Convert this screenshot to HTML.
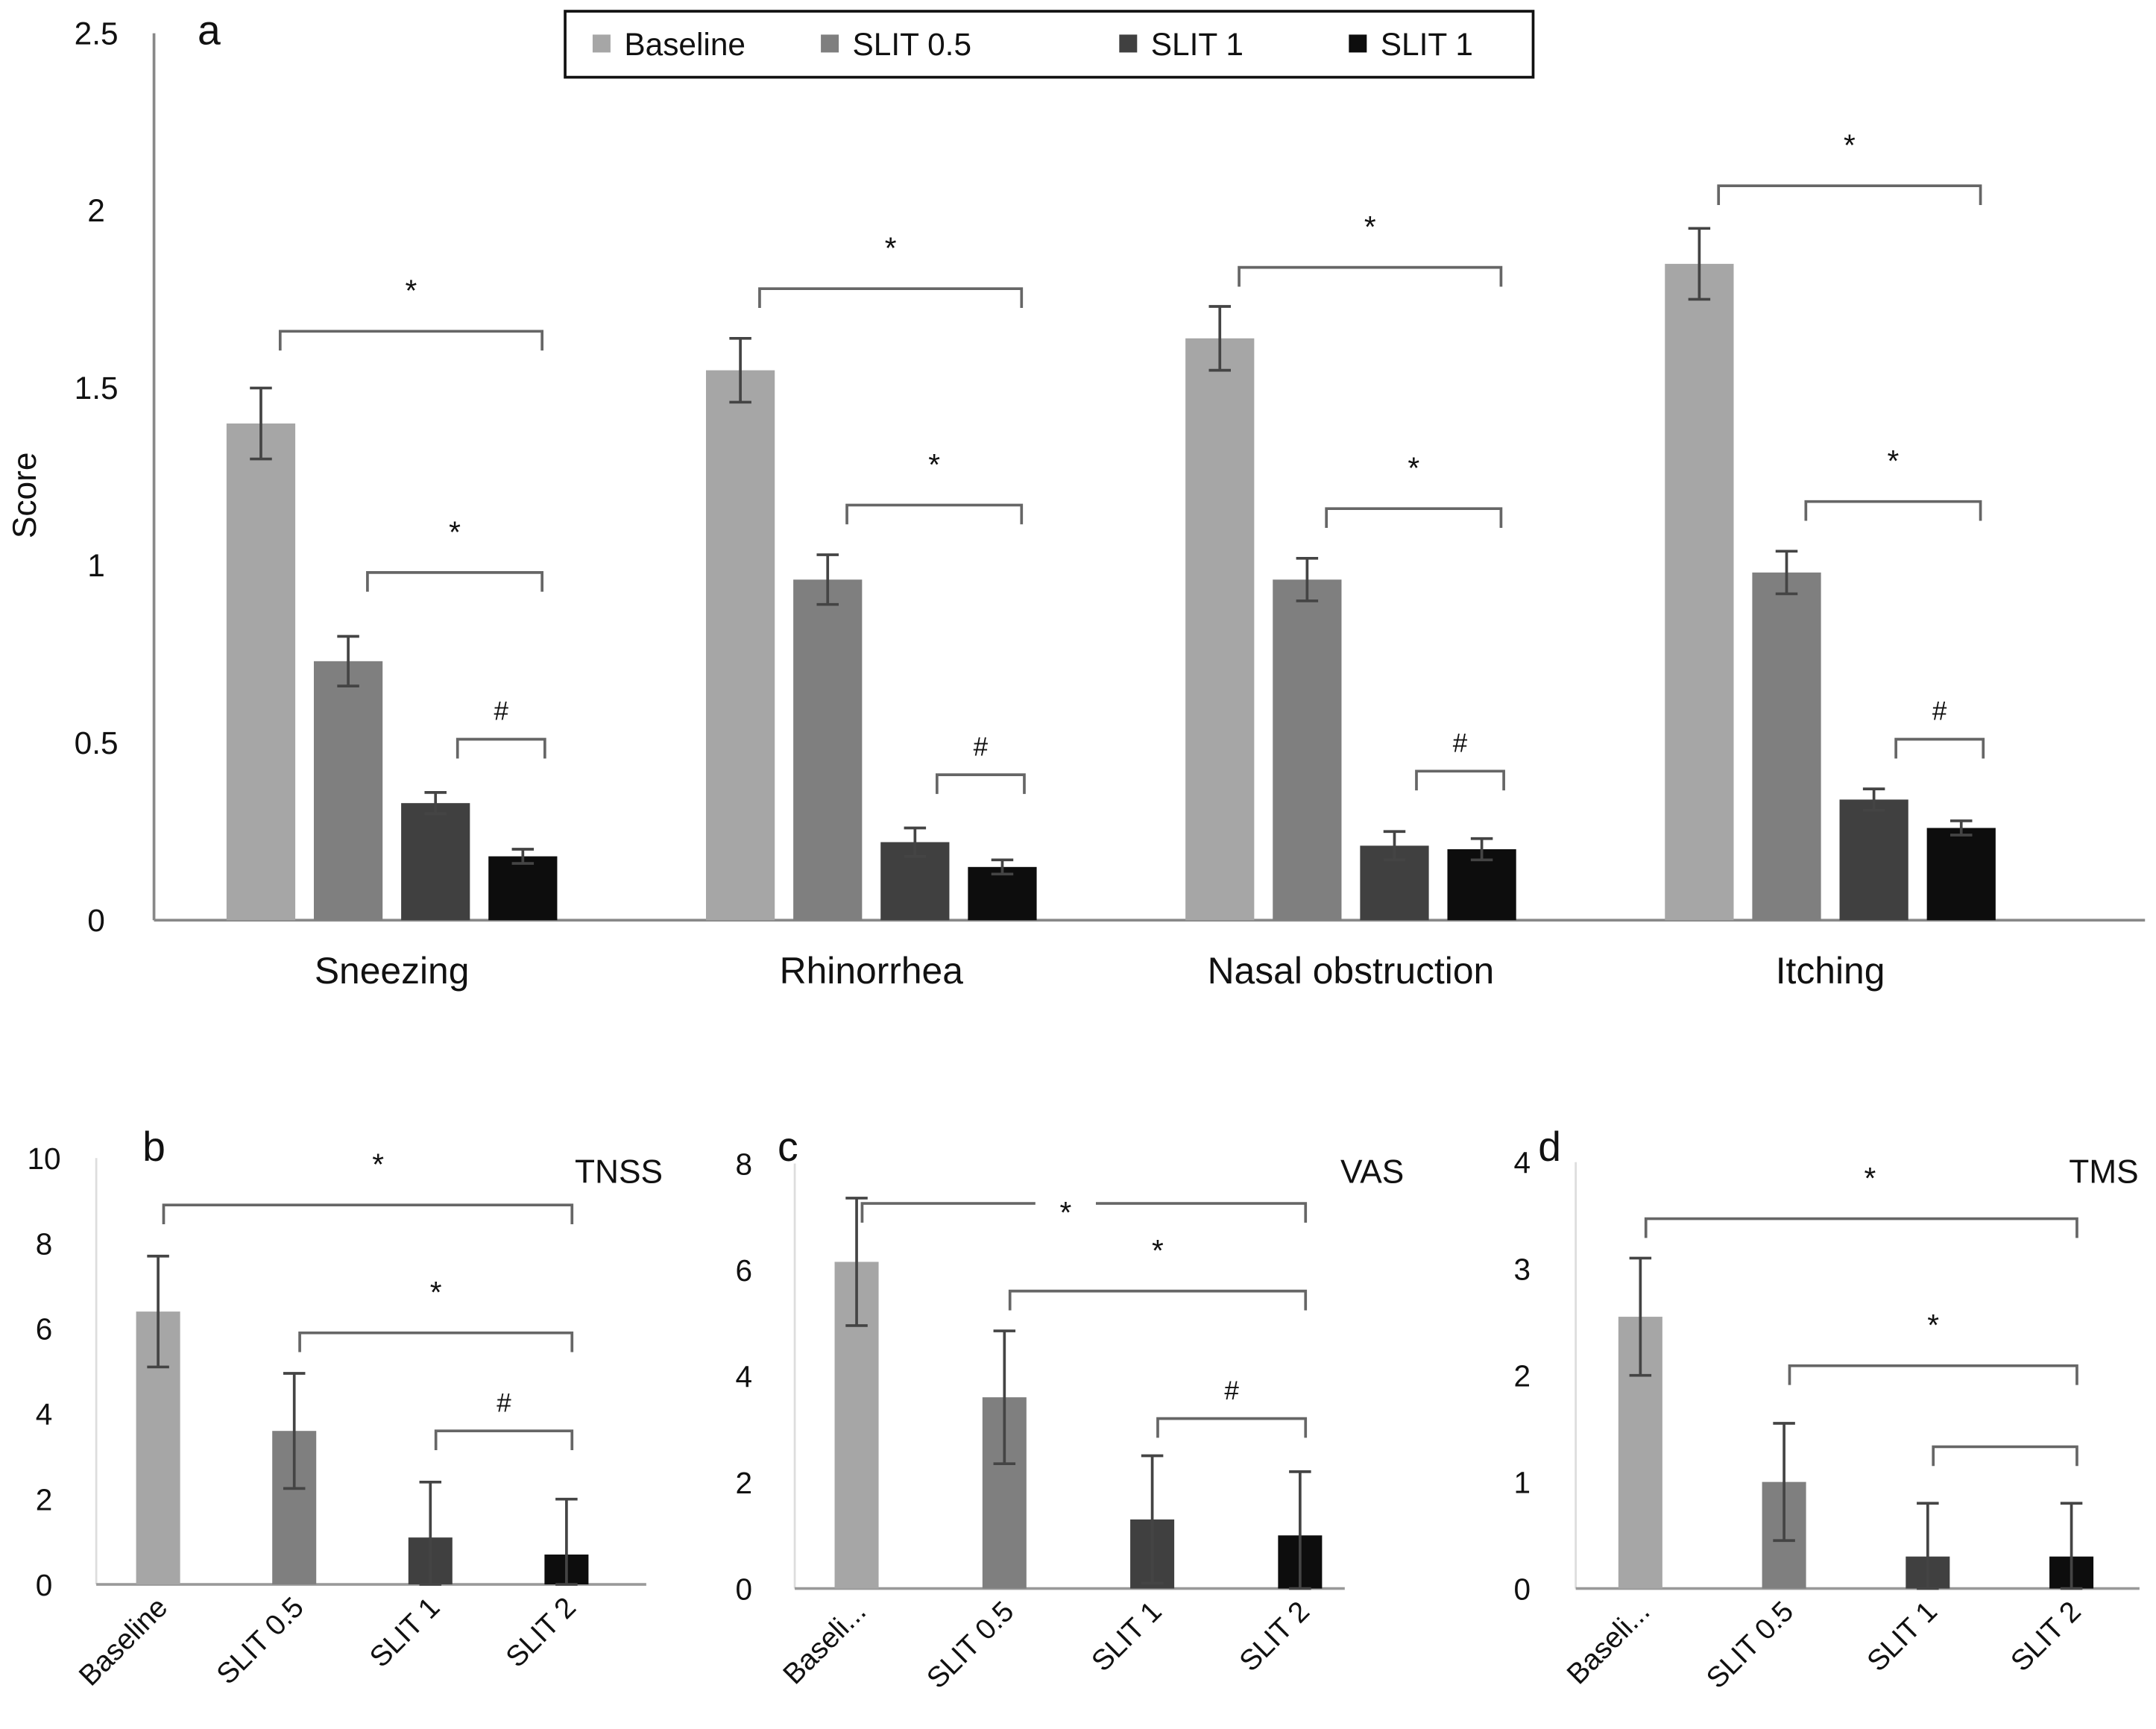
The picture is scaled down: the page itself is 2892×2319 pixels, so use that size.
<!DOCTYPE html>
<html><head><meta charset="utf-8"><style>
html,body{margin:0;padding:0;background:#fff;}
svg{display:block;font-family:"Liberation Sans",Arial,sans-serif;}
</style></head><body>
<svg id="chart" width="2892" height="2319" viewBox="0 0 1568 1257" xmlns="http://www.w3.org/2000/svg"></svg>
<script>
// ---- Panel a data ----
const aCategories = ["Sneezing","Rhinorrhea","Nasal obstruction","Itching"];
const aSeriesNames = ["Baseline","SLIT 0.5","SLIT 1","SLIT 1"];
const aBaseline = [1.40,1.55,1.64,1.85];
const aSlit05 = [0.73,0.96,0.96,0.98];
const aSlit1 = [0.33,0.22,0.21,0.34];
const aSlit2 = [0.18,0.15,0.20,0.26];
const aErrBaseline = [0.10,0.09,0.09,0.10];
const aErrSlit05 = [0.07,0.07,0.06,0.06];
const aErrSlit1 = [0.03,0.04,0.04,0.03];
const aErrSlit2 = [0.02,0.02,0.03,0.02];
const aTicks = ["0","0.5","1","1.5","2","2.5"];
const aBracketTop = [1.66,1.78,1.84,2.07];
const aBracketMid = [0.98,1.17,1.16,1.18];
const aBracketLow = [0.51,0.41,0.42,0.51];
// ---- Small panels data ----
const smallLabels = ["Baseline","SLIT 0.5","SLIT 1","SLIT 2"];
const bValues = [6.4,3.6,1.1,0.7];
const bErrors = [1.3,1.35,1.3,1.3];
const bTicks = ["0","2","4","6","8","10"];
const bBrackets = [8.9,5.9,3.6];
const cValues = [6.15,3.6,1.3,1.0];
const cErrors = [1.2,1.25,1.2,1.2];
const cTicks = ["0","2","4","6","8"];
const cBrackets = [7.25,5.6,3.2];
const dValues = [2.55,1.0,0.3,0.3];
const dErrors = [0.55,0.55,0.5,0.5];
const dTicks = ["0","1","2","3","4"];
const dBrackets = [3.47,2.09,1.33];

const colors = ["#a6a6a6","#7f7f7f","#404040","#0d0d0d"];
const svg = document.getElementById('chart');
const NS = "http://www.w3.org/2000/svg";
function el(tag, attrs, parent, text){
  const e = document.createElementNS(NS, tag);
  for (const k in attrs) e.setAttribute(k, attrs[k]);
  if (text !== undefined) e.textContent = text;
  (parent||svg).appendChild(e);
  return e;
}
function bracket(g, x1, x2, y, sym, sx, name, gap){
  let d;
  if (gap) d = `M${x1} ${y+14}V${y}H${sx-gap}M${sx+gap} ${y}H${x2}V${y+14}`;
  else d = `M${x1} ${y+14}V${y}H${x2}V${y+14}`;
  const p = el('path',{d:d,fill:'none',stroke:'#666','stroke-width':2},g);
  
  
  if (sym){
    const sy = gap ? y+14 : (sym==='*'?y-22:y-14);
    const t = el('text',{x:sx,y:sy,'font-size':sym==='*'?22:19,'text-anchor':'middle',fill:'#111'},g,sym);
    
    
  }
}
function errbar(g, x, yTop, yBot, name){
  const e = el('path',{d:`M${x} ${yTop}V${yBot}M${x-8} ${yTop}H${x+8}M${x-8} ${yBot}H${x+8}`,stroke:'#444','stroke-width':2,fill:'none'},g);
  
  
}

// ---- Panel a ----
(function(){
  const g = el('g',{});
  
  
  const y0=669, unit=258;
  const Y = v => y0 - v*unit;
  const groupCenters = i => 285 + i*348.7;
  const barX = (i,s) => groupCenters(i) + (s-1.5)*63.5;
  const series=[aBaseline,aSlit05,aSlit1,aSlit2], errs=[aErrBaseline,aErrSlit05,aErrSlit1,aErrSlit2];
  el('line',{x1:112,y1:24,x2:112,y2:y0,stroke:'#888','stroke-width':2},g);
  el('line',{x1:112,y1:y0,x2:1560,y2:y0,stroke:'#888','stroke-width':2},g);
  aTicks.forEach((t,i)=>{
    const v=parseFloat(t);
    const tx = el('text',{x:70,y:Y(v)+8,'font-size':23,'text-anchor':'middle',fill:'#111'},g,t);
    
    
  });
  const yt = el('text',{x:26,y:360,'font-size':24,'text-anchor':'middle',transform:'rotate(-90 26 360)',fill:'#111'},g,'Score');
  
  
  const pl = el('text',{x:152,y:32,'font-size':30,'text-anchor':'middle',fill:'#111'},g,'a');
  
  
  aCategories.forEach((c,i)=>{
    series.forEach((s,si)=>{
      const x=barX(i,si);
      const r = el('rect',{x:x-25,y:Y(s[i]),width:50,height:s[i]*unit,fill:colors[si]},g);
      
      
      errbar(g,x,Y(s[i]+errs[si][i]),Y(s[i]-errs[si][i]),'error-bar');
    });
    const cl = el('text',{x:groupCenters(i),y:715,'font-size':27,'text-anchor':'middle',fill:'#111'},g,c);
    
    
    bracket(g,barX(i,0)+14,barX(i,3)+14,Y(aBracketTop[i]),'*',(barX(i,0)+barX(i,3))/2+14,'top');
    bracket(g,barX(i,1)+14,barX(i,3)+14,Y(aBracketMid[i]),'*',(barX(i,1)+barX(i,3))/2+14,'mid');
    bracket(g,barX(i,2)+16,barX(i,3)+16,Y(aBracketLow[i]),'#',(barX(i,2)+barX(i,3))/2+16,'low');
  });
  // legend
  const lg = el('g',{},g);
  
  
  el('rect',{x:411,y:8,width:704,height:48,fill:'#fff',stroke:'#111','stroke-width':2},lg);
  const lx=[431,597,814,981];
  aSeriesNames.forEach((n,i)=>{
    const e = el('g',{},lg);
    
    
    el('rect',{x:lx[i],y:25,width:13,height:13,fill:colors[i]},e);
    el('text',{x:lx[i]+23,y:40,'font-size':23,fill:'#111'},e,n);
  });
})();

// ---- small panels ----
function smallPanel(name, letter, title, values, errors, ticks, brackets, opts){
  const g = el('g',{});
  
  
  const y0=opts.y0, maxV=parseFloat(ticks[ticks.length-1]), unit=(y0-opts.yTop)/maxV;
  const Y=v=>y0-v*unit;
  const X=i=>opts.x0+i*opts.step;
  el('line',{x1:opts.axisX,y1:opts.yTop,x2:opts.axisX,y2:y0,stroke:'#ddd','stroke-width':1.5},g);
  el('line',{x1:opts.axisX,y1:y0,x2:opts.axisX+opts.w,y2:y0,stroke:'#999','stroke-width':2},g);
  ticks.forEach(t=>{
    const tx=el('text',{x:opts.labX,y:Y(parseFloat(t))+8,'font-size':22,'text-anchor':'middle',fill:'#111'},g,t);
    
    
  });
  const pl=el('text',{x:opts.letterX,y:844,'font-size':30,'text-anchor':'middle',fill:'#111'},g,letter);
  
  
  const tt=el('text',{x:opts.titleX,y:860,'font-size':24,'text-anchor':'middle',fill:'#111'},g,title);
  
  
  values.forEach((v,i)=>{
    const r=el('rect',{x:X(i)-16,y:Y(v),width:32,height:v*unit,fill:colors[i]},g);
    
    
    errbar(g,X(i),Y(v+errors[i]),Y(Math.max(0,v-errors[i])),'error-bar');
    const lbl = (opts.short && i===0) ? 'Baseli...' : smallLabels[i];
    const lx=X(i)+8, ly=y0+18;
    const t=el('text',{x:lx,y:ly,'font-size':21,'text-anchor':'end',transform:`rotate(-45 ${lx} ${ly})`,fill:'#111'},g,lbl);
    
    
  });
  const syms=['*','*',opts.lastSym];
  const starts=[0,1,2];
  brackets.forEach((b,k)=>{
    const x1=X(starts[k])+4, x2=X(3)+4;
    const sx = k===0 && opts.starX ? opts.starX : (x1+x2)/2;
    bracket(g,x1,x2,Y(b),syms[k],sx,'bracket-'+k,k===0?opts.gap:0);
  });
}
smallPanel('tnss','b','TNSS',bValues,bErrors,bTicks,bBrackets,{y0:1152,yTop:842,x0:115,step:99,axisX:70,w:400,labX:32,letterX:112,titleX:450,lastSym:'#',starX:275});
smallPanel('vas','c','VAS',cValues,cErrors,cTicks,cBrackets,{y0:1155,yTop:846,x0:623,step:107.5,axisX:578,w:400,labX:541,letterX:573,titleX:998,lastSym:'#',short:true,starX:775,gap:22});
smallPanel('tms','d','TMS',dValues,dErrors,dTicks,dBrackets,{y0:1155,yTop:845,x0:1193,step:104.5,axisX:1146,w:410,labX:1107,letterX:1127,titleX:1530,lastSym:'',short:true,starX:1360});
</script>
</body></html>
